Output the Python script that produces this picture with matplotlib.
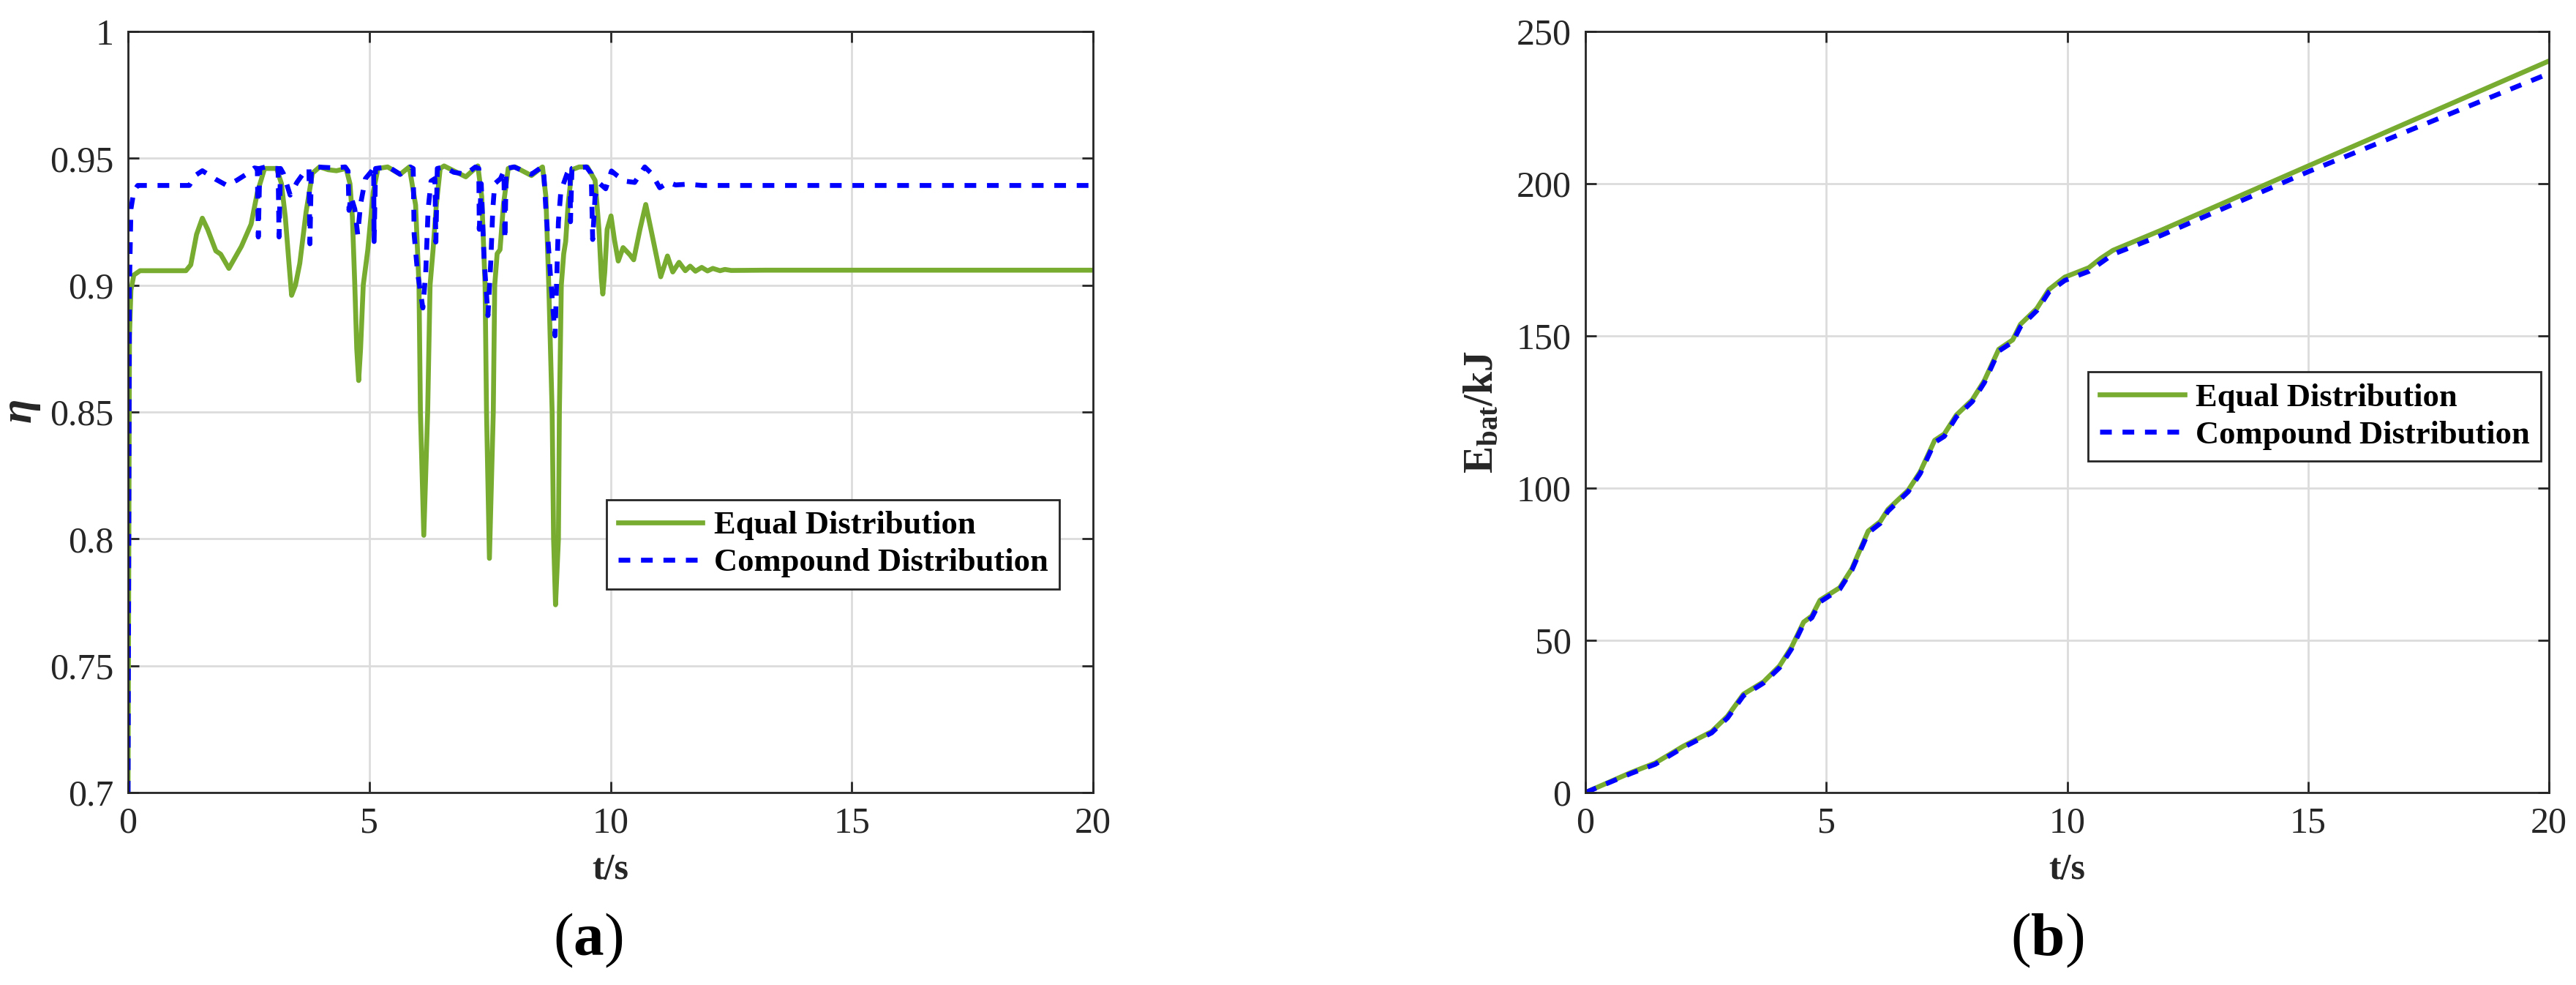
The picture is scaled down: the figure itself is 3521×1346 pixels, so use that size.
import numpy as np
import matplotlib
matplotlib.use('Agg')
import matplotlib.pyplot as plt
import matplotlib.ticker as ticker

plt.rcParams['font.family'] = ['Liberation Serif', 'DejaVu Serif']
plt.rcParams['mathtext.fontset'] = 'custom'
plt.rcParams['mathtext.rm'] = 'Liberation Serif'
plt.rcParams['mathtext.it'] = 'Liberation Serif:italic:bold'
plt.rcParams['mathtext.bf'] = 'Liberation Serif:bold'

###colors###
green = '#77AC30'
blue = '#0000FF'
axcol = '#262626'
gridcol = '#DCDCDC'

labels = ['Equal Distribution', 'Compound Distribution']

# (a) efficiency, equal distribution
t_eq = [0, 0.03, 0.06, 0.12, 0.25, 1.2, 1.3, 1.42, 1.54, 1.65, 1.82, 1.92, 2.09, 2.35,
        2.55, 2.68, 2.83, 3.08, 3.18, 3.26, 3.33, 3.39, 3.47, 3.56, 3.69, 3.82, 3.97,
        4.15, 4.32, 4.52, 4.6, 4.65, 4.70, 4.74, 4.78, 4.82, 4.875, 4.97, 5.08, 5.18,
        5.38, 5.64, 5.83, 5.96, 6.03, 6.06, 6.13, 6.21, 6.26, 6.32, 6.39, 6.47, 6.55,
        7.0, 7.25, 7.33, 7.40, 7.43, 7.49, 7.57, 7.6, 7.65, 7.71, 7.78, 7.88, 8.02,
        8.36, 8.59, 8.66, 8.72, 8.79, 8.82, 8.86, 8.92, 8.94, 8.98, 9.03, 9.07, 9.12,
        9.2, 9.35, 9.52, 9.68, 9.76, 9.81, 9.84, 9.88, 9.93, 10.01, 10.08, 10.16, 10.26,
        10.4, 10.48, 10.61, 10.73, 10.89, 11.04, 11.18, 11.29, 11.42, 11.55, 11.65,
        11.76, 11.89, 12.01, 12.12, 12.27, 12.37, 12.5, 13.2, 20]
eta_eq = [0.70, 0.88, 0.898, 0.904, 0.9057, 0.9057, 0.908, 0.92, 0.9264, 0.922, 0.9135,
          0.9122, 0.9066, 0.9153, 0.924, 0.9365, 0.946, 0.946, 0.940, 0.9268, 0.910,
          0.896, 0.900, 0.9086, 0.9288, 0.9441, 0.9466, 0.9455, 0.9451, 0.946, 0.940,
          0.9268, 0.90, 0.875, 0.8624, 0.875, 0.90, 0.914, 0.9365, 0.946, 0.9466,
          0.9437, 0.9466, 0.9316, 0.90, 0.85, 0.8014, 0.85, 0.90, 0.9135, 0.9316, 0.946,
          0.947, 0.9427, 0.947, 0.935, 0.90, 0.85, 0.7923, 0.85, 0.90, 0.9124, 0.914,
          0.9316, 0.946, 0.9466, 0.9432, 0.9466, 0.935, 0.90, 0.85, 0.80, 0.774, 0.80,
          0.85, 0.90, 0.9124, 0.9172, 0.9316, 0.9455, 0.9466, 0.9466, 0.9413, 0.922,
          0.9028, 0.8965, 0.905, 0.922, 0.9273, 0.918, 0.9095, 0.9148, 0.912, 0.910,
          0.922, 0.9318, 0.9172, 0.9033, 0.9115, 0.9052, 0.909, 0.9057, 0.9075, 0.9055,
          0.907, 0.9056, 0.9066, 0.9057, 0.9062, 0.9058, 0.9059, 0.9059]

# (a) efficiency, compound distribution
t_cd = [0, 0.03, 0.06, 0.12, 0.2, 1.27, 1.39, 1.54, 1.82, 2.05, 2.25, 2.45, 2.62, 2.68,
        2.70, 2.73, 2.85, 3.05, 3.11, 3.13, 3.16, 3.22, 3.36, 3.5, 3.65, 3.75, 3.77,
        3.80, 3.9, 4.3, 4.5, 4.56, 4.58, 4.62, 4.70, 4.76, 4.82, 4.92, 5.05, 5.09, 5.10,
        5.13, 5.4, 5.64, 5.85, 5.91, 5.93, 6.0, 6.11, 6.17, 6.22, 6.28, 6.36, 6.38, 6.41,
        6.55, 6.75, 7.0, 7.2, 7.27, 7.28, 7.32, 7.38, 7.46, 7.52, 7.56, 7.6, 7.72, 7.79,
        7.81, 7.84, 8.0, 8.36, 8.58, 8.62, 8.66, 8.75, 8.85, 8.92, 8.97, 9.1, 9.16, 9.17,
        9.2, 9.5, 9.6, 9.63, 9.68, 9.78, 9.9, 10.02, 10.15, 10.3, 10.5, 10.71, 10.85,
        11.02, 11.2, 11.35, 11.6, 11.9, 20]
eta_cd = [0.70, 0.90, 0.93, 0.937, 0.9393, 0.9393, 0.9432, 0.9451, 0.9417, 0.9393, 0.9413,
          0.9437, 0.9462, 0.946, 0.919, 0.946, 0.9466, 0.946, 0.946, 0.919, 0.946, 0.944,
          0.9355, 0.9405, 0.9445, 0.946, 0.9163, 0.946, 0.9466, 0.9462, 0.9466, 0.945,
          0.9295, 0.935, 0.93, 0.92, 0.932, 0.942, 0.945, 0.9466, 0.9172, 0.946, 0.9466,
          0.9437, 0.9466, 0.946, 0.92, 0.905, 0.891, 0.905, 0.93, 0.941, 0.942, 0.917,
          0.946, 0.9466, 0.9445, 0.9437, 0.9466, 0.946, 0.922, 0.94, 0.91, 0.888, 0.91,
          0.93, 0.94, 0.942, 0.945, 0.918, 0.946, 0.9466, 0.9437, 0.9466, 0.943, 0.93,
          0.905, 0.88, 0.925, 0.937, 0.944, 0.946, 0.925, 0.946, 0.9466, 0.944, 0.918,
          0.935, 0.94, 0.938, 0.945, 0.943, 0.941, 0.9405, 0.9466, 0.944, 0.9384, 0.9405,
          0.9395, 0.9398, 0.9393, 0.9393]

# (b) battery energy
t_e = [0, 0.95, 1.45, 2.03, 2.62, 2.95, 3.28, 3.7, 4.03, 4.28, 4.53, 4.7, 4.87, 5.28,
       5.53, 5.87, 6.12, 6.28, 6.7, 6.95, 7.25, 7.45, 7.7, 8.03, 8.28, 8.58, 8.87, 9.03,
       9.37, 9.62, 9.95, 10.45, 10.7, 10.95, 11.95, 15, 20]
e_eq = [0, 6.6, 9.7, 15.2, 20, 25.1, 32.3, 36.4, 41.6, 47.8, 56, 58, 63.2, 67.3, 73.5,
        85.9, 89, 93, 99.3, 105.4, 115.7, 117.8, 124, 129, 135.3, 145.6, 148.7, 153.8,
        159, 165.2, 169.3, 172.4, 175.5, 178.1, 184.7, 205.8, 240.3]
e_cd = [0, 6.3, 9.3, 14.8, 19.6, 24.5, 31.8, 36.0, 41.0, 47.2, 55.4, 57.4, 62.6, 66.8,
        73.0, 85.3, 88.4, 92.4, 98.8, 104.8, 115.0, 117.0, 123.4, 128.4, 134.6, 145.0,
        148.0, 153.0, 158.3, 164.4, 168.2, 171.2, 174.0, 176.8, 183.0, 203.9, 236.2]

fig = plt.figure(figsize=(3521 / 200, 1346 / 200), dpi=200)
ax1 = fig.add_axes([175 / 3521, 1 - 1083 / 1346, 1319 / 3521, 1040 / 1346])
ax2 = fig.add_axes([2167 / 3521, 1 - 1083 / 1346, 1317 / 3521, 1040 / 1346])

lw = 2.4
for ax in (ax1, ax2):
    ax.grid(True, color=gridcol, linewidth=1.0)
    ax.set_axisbelow(True)
    for s in ax.spines.values():
        s.set_color(axcol)
        s.set_linewidth(1.0)
    ax.tick_params(direction='in', length=5.4, width=1.0, color=axcol, top=True,
                   right=True, labelsize=18, labelcolor=axcol, pad=7)
    ax.set_xlim(0, 20)
    ax.xaxis.set_major_locator(ticker.MultipleLocator(5))
    ax.set_xlabel('t/s', fontsize=18, fontweight='bold', color=axcol, labelpad=6)

ax1.plot(t_eq, eta_eq, color=green, lw=lw, label=labels[0])
ax1.plot(t_cd, eta_cd, color=blue, lw=lw, dashes=(2.4, 2.2), label=labels[1])
ax1.set_ylim(0.7, 1.0)
ax1.yaxis.set_major_locator(ticker.MultipleLocator(0.05))
ax1.yaxis.set_major_formatter(ticker.FuncFormatter(lambda v, p: '%g' % round(v, 2)))
ax1.set_ylabel(r'$\eta$', fontsize=22, color=axcol)
ax1.yaxis.set_label_coords(-0.089, 0.5)

ax2.plot(t_e, e_eq, color=green, lw=lw, label=labels[0])
ax2.plot(t_e, e_cd, color=blue, lw=lw, dashes=(2.4, 2.2), label=labels[1])
ax2.set_ylim(0, 250)
ax2.yaxis.set_major_locator(ticker.MultipleLocator(50))
ax2.set_ylabel(r'E$_{\mathbf{bat}}$/kJ', fontsize=20, fontweight='bold', color=axcol)
ax2.yaxis.set_label_coords(-0.087, 0.5)

for ax, anchor in ((ax1, (0.496, 0.385)), (ax2, (0.522, 0.553))):
    leg = ax.legend(loc='upper left', bbox_to_anchor=anchor, borderaxespad=0,
                    fancybox=False, framealpha=1, edgecolor=axcol,
                    prop={'weight': 'bold', 'size': 16}, handlelength=2.6,
                    handletextpad=0.35, labelspacing=0.25, borderpad=0.35)
    leg.get_frame().set_linewidth(1.0)

fig.text(804 / 3521, 1 - 1285 / 1346, r'($\mathbf{a}$)', fontsize=30, ha='center', va='center')
fig.text(2798 / 3521, 1 - 1285 / 1346, r'($\mathbf{b}$)', fontsize=30, ha='center', va='center')

fig.savefig('out.png', dpi=200, facecolor='white')
